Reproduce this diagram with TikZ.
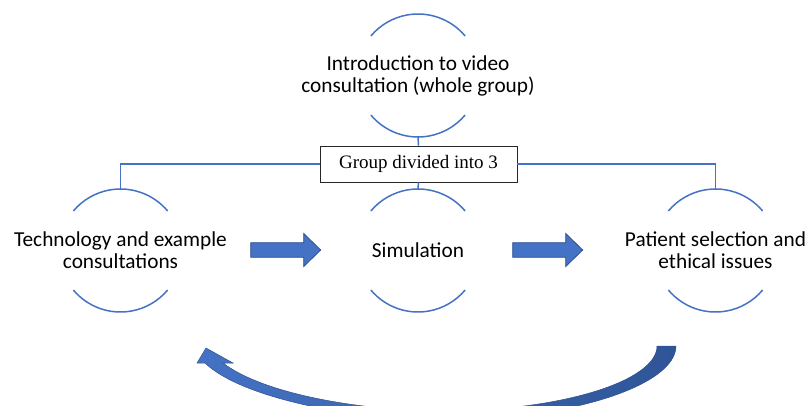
\documentclass[tikz,border=0pt]{standalone}
\usepackage{fontspec}
\setmainfont{Carlito}
\newfontfamily\boxfont{Liberation Serif}
\definecolor{ringblue}{HTML}{4472C4}
\definecolor{edgeblue}{HTML}{2F528F}
\definecolor{darkblue}{HTML}{2F5597}
\begin{document}
\begin{tikzpicture}[x=1bp,y=1bp,
	topic/.style={align=center, inner sep=0, font=\fontsize{21.3bp}{22bp}\selectfont},
	groupbox/.style={draw=black!85, line width=.8bp, fill=white, minimum width=197bp, minimum height=36bp, inner sep=0, font=\boxfont\fontsize{19bp}{22bp}\selectfont},
	ringline/.style={ringblue, line width=1.5bp},
	blockarrow/.style={fill=ringblue, draw=edgeblue, line width=.8bp}]
	\useasboundingbox (0,0) rectangle (806,405);
	
	\node[topic] (intro) at (418,329.5) {Introduction to video\\consultation (whole group)};
	\node[groupbox] (split) at (418.5,241) {Group divided into 3};
	
	\node[topic] (tech) at (120.5,154.5) {Technology and example\\consultations};
	\node[topic] (sim) at (418,154.5) {Simulation};
	\node[topic] (patient) at (715.5,154.5) {Patient selection and\\ethical issues};
	
	\foreach \n in {intro,tech,sim,patient}{
		\draw[ringline] ([shift={(40:61.5)}]\n.center) arc (40:140:61.5);
		\draw[ringline] ([shift={(220:61.5)}]\n.center) arc (220:320:61.5);
	}
	
	\draw[ringline] ([yshift=-61.5bp]intro.center) -- (split.north);
	\draw[ringline] (split.south) -- ([yshift=61.5bp]sim.center);
	\draw[ringline] (split.west) -| ([yshift=61.5bp]tech.center);
	\draw[ringline] (split.east) -| ([yshift=61.5bp]patient.center);
	
	\foreach \x in {250.7,512.7}
		\filldraw[blockarrow, shift={(\x,155)}] (0,-7.3) -- (53,-7.3) -- (53,-16.5) -- (70,0) -- (53,16.5) -- (53,7.3) -- (0,7.3) -- cycle;
	
	% back from patient to tech
	\begin{scope}
		\clip (0,0) rectangle (806,405);
		\path[shade, left color=ringblue, right color=darkblue, draw=edgeblue, line width=.5bp]
			(676,59) .. controls (676,20) and (572,-15) .. (443,-15)
			.. controls (350,-15) and (240,8) .. (205,42)
			-- (197,42) -- (206,57) -- (233,42) -- (223,42)
			.. controls (265,10) and (365,-6) .. (443,-6)
			.. controls (561,-6) and (657,24) .. (657,59) -- cycle;
	\end{scope}
\end{tikzpicture}
\end{document}
